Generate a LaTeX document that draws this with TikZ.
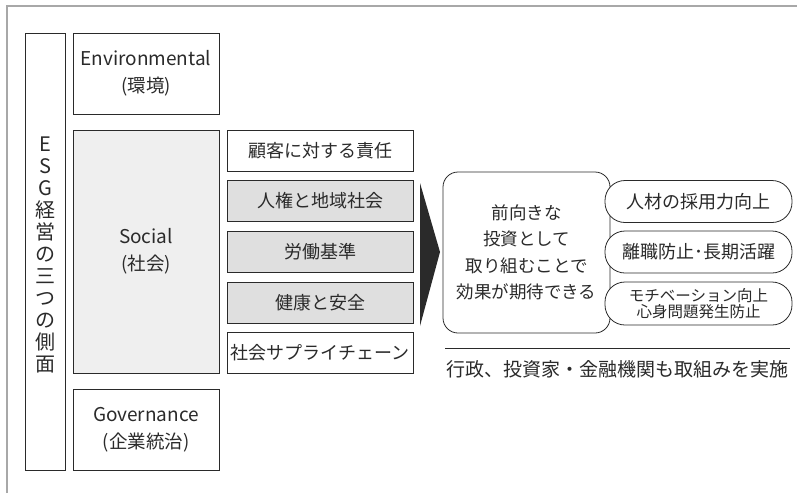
\documentclass[tikz,border=0pt]{standalone}
\usepackage{fontspec}
\setmainfont{Noto Sans CJK JP}
\definecolor{edge}{HTML}{2A2A2A}
\definecolor{socfill}{HTML}{EFEFEF}
\definecolor{grayfill}{HTML}{DFDFDF}
\definecolor{framegray}{HTML}{A8A8A8}
\definecolor{txt}{HTML}{2A2A2A}
\newcommand{\latinword}[1]{{\fontsize{19}{27}\selectfont #1}}
\tikzset{
  box/.style={draw=edge, line width=0.8pt, inner sep=0pt, align=center, text=txt},
  big/.style={box, minimum width=146pt, font=\fontsize{18.5}{27}\selectfont},
  item/.style={box, minimum width=186pt, minimum height=41pt, font=\fontsize{18}{21}\selectfont},
  pill/.style={box, fill=white, rounded corners=20pt, minimum width=187pt, minimum height=42pt, font=\fontsize{18}{21}\selectfont},
}
\begin{document}
\begin{tikzpicture}[x=1pt,y=-1pt]
\useasboundingbox (0,0) rectangle (797,493);
% frame
\draw[framegray, line width=1.4pt] (7,493) -- (7,6) -- (797,6);
% ESG vertical
\node[box, minimum width=40pt, minimum height=437pt] (esg) at (45,251.5) {};
\node[align=center, inner sep=0pt, text=txt, font=\fontsize{20}{22}\selectfont] (esgtext) at (45,255) {E\\S\\G\\経\\営\\の\\三\\つ\\の\\側\\面};
% big boxes
\node[big, minimum height=81pt] (env) at (146,73.5) {\latinword{Environmental}\\(環境)};
\node[big, fill=socfill, minimum height=243pt] (soc) at (146,251.5) {\latinword{Social}\\(社会)};
\node[big, minimum height=81pt] (gov) at (146,429.5) {\latinword{Governance}\\(企業統治)};
% items
\node[item] (i1) at (320,150.5) {顧客に対する責任};
\node[item, fill=grayfill] (i2) at (320,201) {人権と地域社会};
\node[item, fill=grayfill] (i3) at (320,252) {労働基準};
\node[item, fill=grayfill] (i4) at (320,302.5) {健康と安全};
\node[item] (i5) at (320,353) {社会サプライチェーン};
% chevron arrow
\coordinate (at) at (420,183);
\coordinate (ab) at (420,326);
\coordinate (tip) at (440,252);
\fill[edge] (at) -- (tip) -- (ab) -- cycle;
% rounded box
\node[box, rounded corners=15pt, minimum width=167pt, minimum height=161pt, font=\fontsize{17.5}{26.5}\selectfont] (eff) at (526.5,252.5) {前向きな\\投資として\\取り組むことで\\効果が期待できる};
% pills
\node[pill] (p1) at (698.5,201.5) {人材の採用力向上};
\node[pill] (p2) at (698.5,252) {離職防止･長期活躍};
\node[pill, minimum height=43pt, font=\fontsize{15.5}{16.5}\selectfont] (p3) at (698.5,303.5) {モチベーション向上\\心身問題発生防止};
% line and bottom text
\coordinate (l1) at (445,348);
\coordinate (l2) at (790,348);
\draw[edge, line width=0.8pt] (l1) -- (l2);
\node[inner sep=0pt, text=txt, font=\fontsize{19}{22}\selectfont] (note) at (617.5,369) {行政、投資家・金融機関も取組みを実施};
\end{tikzpicture}
\end{document}
